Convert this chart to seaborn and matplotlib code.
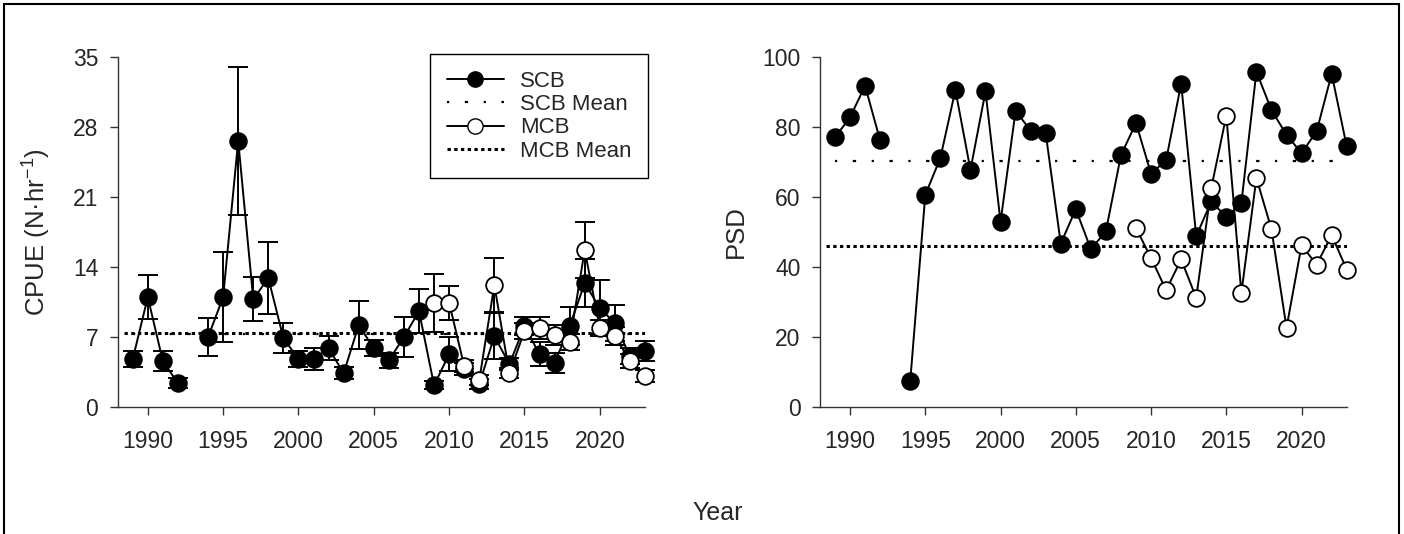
import numpy as np
import pandas as pd
import matplotlib
matplotlib.use("Agg")
import matplotlib.pyplot as plt
from matplotlib.lines import Line2D
from matplotlib.patches import Rectangle
import seaborn as sns

# ---------------- data ----------------
years = list(range(1989, 2024))
scb_cpue = [4.8, 11.0, 4.6, 2.4, np.nan, 7.0, 11.0, 26.6, 10.8, 12.9, 6.9, 4.8,
            4.8, 5.9, 3.4, 8.2, 5.9, 4.7, 7.0, 9.6, 2.2, 5.3, 3.8, 2.3, 7.1,
            4.3, 8.1, 5.3, 4.4, 8.1, 12.4, 9.9, 8.4, 5.1, 5.6]
scb_cpue_se = [0.8, 2.2, 1.0, 0.5, np.nan, 1.9, 4.5, 7.4, 2.2, 3.6, 1.5, 0.8,
               1.1, 1.2, 0.6, 2.4, 0.8, 0.75, 2.0, 2.2, 0.4, 1.7, 0.6, 0.5, 2.3,
               0.6, 0.9, 1.2, 1.0, 1.9, 2.4, 2.8, 1.8, 0.8, 1.0]
mcb_years = list(range(2009, 2024))
mcb_cpue = [10.4, 10.45, 4.1, 2.7, 12.2, 3.4, 7.6, 7.9, 7.2, 6.5, 15.7, 7.9,
            7.15, 4.6, 3.1]
mcb_cpue_se = [2.9, 1.7, 0.6, 0.5, 2.7, 0.5, 0.8, 1.1, 1.0, 0.8, 2.8, 0.8,
               0.9, 0.7, 0.6]
scb_psd = [77.0, 82.7, 91.7, 76.1, np.nan, 7.5, 60.6, 71.1, 90.5, 67.7, 90.1,
           52.9, 84.6, 78.9, 78.2, 46.7, 56.5, 45.1, 50.2, 71.9, 81.1, 66.6,
           70.5, 92.3, 48.8, 58.7, 54.3, 58.2, 95.7, 84.8, 77.7, 72.5, 78.7,
           95.1, 74.4]
mcb_psd = [51.1, 42.6, 33.4, 42.2, 31.2, 62.5, 83.2, 32.6, 65.4, 50.8, 22.7,
           46.2, 40.7, 49.1, 39.3]
scb_cpue_mean = 7.3
mcb_cpue_mean = 7.4
scb_psd_mean = 70.2
mcb_psd_mean = 46.0
cpue_ticks = [0, 7, 14, 21, 28, 35]
psd_ticks = [0, 20, 40, 60, 80, 100]
year_ticks = [1990, 1995, 2000, 2005, 2010, 2015, 2020]
legend_labels = ["SCB", "SCB Mean", "MCB", "MCB Mean"]

# ---------------- style ----------------
sns.set_style("ticks")
plt.rcParams["font.family"] = ["Liberation Sans", "DejaVu Sans"]
plt.rcParams["axes.linewidth"] = 1.0
plt.rcParams["mathtext.default"] = "regular"

fig = plt.figure(figsize=(14.04, 5.34), dpi=100)
axL = fig.add_axes([0.0838, 0.2373, 0.3756, 0.6565])
axR = fig.add_axes([0.5840, 0.2373, 0.3752, 0.6565])

MS = 12
LW = 1.4
SCB_MEAN_LS = (0, (1, 7, 1.5, 7))
MCB_MEAN_LS = (0, (1.1, 1.1))


def segment_ids(vals):
    seg, out = 0, []
    for v in vals:
        if np.isnan(v):
            seg += 1
        out.append(seg)
    return out


def draw_series(ax, xs, ys, face, z, se=None):
    df = pd.DataFrame({"year": xs, "val": ys, "seg": segment_ids(ys)}).dropna()
    if se is not None:
        eb = ax.errorbar(xs, ys, yerr=se, fmt="none", ecolor="black",
                         elinewidth=LW, capsize=7, capthick=LW, zorder=z)
        for art in eb.lines[1] + eb.lines[2]:
            art.set_clip_on(False)
    sns.lineplot(data=df, x="year", y="val", units="seg", estimator=None,
                 color="black", lw=LW, marker="o", markersize=MS,
                 markerfacecolor=face, markeredgecolor="black",
                 markeredgewidth=1.3, ax=ax, zorder=z + 0.5, legend=False,
                 clip_on=False)


# ----- left panel: CPUE -----
draw_series(axL, years, scb_cpue, "black", 3, scb_cpue_se)
draw_series(axL, mcb_years, mcb_cpue, "white", 4, mcb_cpue_se)
axL.plot([years[0], years[-1]], [scb_cpue_mean] * 2, color="black", lw=1.6,
         ls=SCB_MEAN_LS, zorder=2)
axL.plot([years[0] - 0.6, years[-1]], [mcb_cpue_mean] * 2, color="black",
         lw=2.2, ls=MCB_MEAN_LS, zorder=2)
axL.set_ylim(0, 35)
axL.set_yticks(cpue_ticks)
axL.set_ylabel("CPUE (N·hr$^{-1}$)", fontsize=18.5, labelpad=14)

# ----- right panel: PSD -----
draw_series(axR, years, scb_psd, "black", 3)
draw_series(axR, mcb_years, mcb_psd, "white", 4)
axR.plot([years[0], years[-1]], [scb_psd_mean] * 2, color="black", lw=1.6,
         ls=SCB_MEAN_LS, zorder=2)
axR.plot([years[0] - 0.6, years[-1]], [mcb_psd_mean] * 2, color="black",
         lw=2.2, ls=MCB_MEAN_LS, zorder=2)
axR.set_ylim(0, 100)
axR.set_yticks(psd_ticks)
axR.set_ylabel("PSD", fontsize=18.5, labelpad=10)

for ax in (axL, axR):
    ax.set_xlim(1988, 2023)
    ax.set_xticks(year_ticks)
    ax.set_xlabel("")
    ax.tick_params(axis="both", labelsize=16.5, length=6, width=1,
                   direction="out", color="#333333", pad=8)
    ax.tick_params(axis="x", pad=10)
    for s in ("top", "right"):
        ax.spines[s].set_visible(False)
    for s in ("left", "bottom"):
        ax.spines[s].set_color("#333333")

fig.text(0.511, 0.039, "Year", ha="center", va="center", fontsize=18)

handles = [
    Line2D([], [], color="black", lw=LW, marker="o", markersize=11,
           markerfacecolor="black", markeredgecolor="black"),
    Line2D([], [], color="black", lw=1.6, ls=SCB_MEAN_LS),
    Line2D([], [], color="black", lw=LW, marker="o", markersize=11,
           markerfacecolor="white", markeredgecolor="black"),
    Line2D([], [], color="black", lw=2.2, ls=MCB_MEAN_LS),
]
leg = axL.legend(handles, legend_labels, loc="upper left",
                 bbox_to_anchor=(0.592, 1.007), borderaxespad=0,
                 fontsize=16, frameon=True,
                 fancybox=False, edgecolor="black", framealpha=1,
                 handlelength=2.6, labelspacing=0.1, borderpad=0.75,
                 handletextpad=0.7)
leg.get_frame().set_linewidth(1.0)

fig.patches.append(Rectangle((4 / 1404, -0.05), 1395 / 1404, 1.05 - 4 / 534,
                             transform=fig.transFigure, fill=False,
                             edgecolor="black", lw=1.5, clip_on=False))

fig.savefig("out.png", dpi=100)
